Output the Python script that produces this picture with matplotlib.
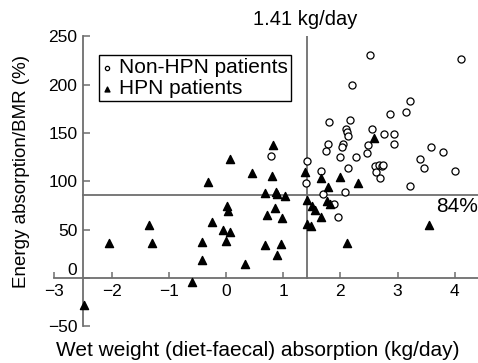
import matplotlib
matplotlib.use("Agg")
import matplotlib.pyplot as plt
from matplotlib.transforms import ScaledTranslation

plt.rcParams["font.family"] = ["Liberation Sans", "DejaVu Sans"]

# Non-HPN patients (open circles)
non_hpn_x = [2.51, 4.10, 2.21, 3.22, 2.87, 3.14, 1.80, 2.16, 2.10, 2.12, 2.14,
             2.56, 2.76, 2.93, 2.94, 2.49, 2.47, 1.79, 1.74, 2.04, 2.03, 2.00,
             2.28, 3.59, 3.79, 3.39, 3.46, 4.01, 1.42, 1.66, 2.14, 2.60, 2.68,
             2.72, 2.75, 2.63, 2.70, 3.21, 1.39, 0.79, 1.69, 2.08, 1.88, 1.96]
non_hpn_y = [231, 226, 200, 183, 170, 172, 161, 163, 154, 151, 147,
             154, 149, 149, 139, 137.5, 129, 138, 131.5, 138.5, 135.5, 125.5,
             125, 135, 130, 123, 114, 111, 121, 110.5, 114, 116, 117,
             116, 117, 110, 103, 95, 98, 126, 86.5, 89, 76, 63.5]

# HPN patients (filled triangles)
hpn_x = [-2.48, -2.04, -1.34, -1.30, -0.59, -0.42, -0.42, -0.32, -0.245, -0.05,
         0.0, 0.02, 0.035, 0.07, 0.07, 0.34, 0.46, 0.69, 0.72, 0.69, 0.83, 0.80,
         0.87, 0.90, 1.04, 0.86, 0.98, 0.97, 0.90, 1.38, 1.41, 1.50, 1.56, 1.66,
         1.41, 1.48, 1.66, 1.79, 1.76, 1.81, 2.00, 2.30, 2.11, 2.58, 3.55]
hpn_y = [-28, 36, 55, 36, -4.5, 37.5, 18.6, 99, 58, 49.6,
         38, 74.5, 69, 47, 123, 14.5, 109, 87.6, 65, 34, 137.5, 105.5,
         89, 86.5, 84.8, 72, 61.7, 35, 23.8, 110, 80.7, 74.5, 70.3, 63.4,
         55.8, 53.8, 103, 93.8, 80, 76.5, 104.8, 98.6, 36, 144.5, 55]

x_cut = 1.41   # kg/day
y_cut = 84     # %
xticks = [-3, -2, -1, 0, 1, 2, 3, 4]
yticks = [-50, 0, 50, 100, 150, 200, 250]

fig = plt.figure(figsize=(4.78, 3.63), dpi=100)
ax = fig.add_axes([0.1077, 0.1011, 0.8917, 0.7992])
ax.set_xlim(-3.05, 4.4)
ax.set_ylim(-50, 250)

axis_col = "#6e6e6e"
ax.axvline(x_cut, ymin=50 / 300, ymax=1, color=axis_col, lw=1.3, zorder=1)
ax.plot([-2.5, 4.4], [y_cut + 2, y_cut + 2], color=axis_col, lw=1.3, zorder=1)

ax.scatter(non_hpn_x, non_hpn_y, marker="o", s=26, facecolors="white",
           edgecolors="black", linewidths=0.9, zorder=3, label="Non-HPN patients")
ax.scatter(hpn_x, hpn_y, marker="^", s=34, color="black", zorder=4,
           clip_on=False, label="HPN patients")

for s in ["top", "right"]:
    ax.spines[s].set_visible(False)
ax.spines["left"].set_position(("data", -2.5))
ax.spines["left"].set_bounds(-50, 250)
ax.spines["bottom"].set_position(("data", 0))
ax.spines["bottom"].set_bounds(-3, 4.4)
for s in ["left", "bottom"]:
    ax.spines[s].set_color(axis_col)
    ax.spines[s].set_linewidth(1.3)

ax.set_xticks(xticks)
ax.set_xticklabels([str(t).replace("-", "\u2212") for t in xticks])
ax.set_yticks(yticks)
ax.set_yticklabels([str(t).replace("-", "\u2212") for t in yticks])
ax.tick_params(axis="x", direction="in", length=4, width=1.1, color=axis_col,
               labelsize=12.5, pad=4)
ax.tick_params(axis="y", direction="in", length=5, width=1.1, color=axis_col,
               labelsize=12.5, pad=4)
# lift the "0" label above the x axis line
for lbl in ax.get_yticklabels():
    if lbl.get_text() == "0":
        lbl.set_transform(lbl.get_transform() +
                          ScaledTranslation(0, 9 / 100, fig.dpi_scale_trans))

fig.text(22 / 478, 1 - 171 / 363, "Energy absorption/BMR (%)", rotation=90,
         ha="center", va="center", fontsize=13.5)
fig.text(258 / 478, 1 - 351 / 363, "Wet weight (diet-faecal) absorption (kg/day)",
         ha="center", va="center", fontsize=15)

ax.text(x_cut - 0.02, 267, "1.41 kg/day", ha="center", va="center",
        fontsize=14.5, clip_on=False)
ax.text(4.4, 74, "84%", ha="right", va="center", fontsize=15)

leg = ax.legend(loc="upper left", bbox_to_anchor=(99 / 478, 1 - 55 / 363),
                bbox_transform=fig.transFigure, fontsize=15, frameon=True,
                fancybox=False, edgecolor="black", framealpha=1,
                handlelength=0.5, handletextpad=0.3, borderpad=0.15,
                labelspacing=0.1, borderaxespad=0, markerscale=0.6)
leg.get_frame().set_linewidth(1.0)

fig.savefig("out.png", dpi=100)
